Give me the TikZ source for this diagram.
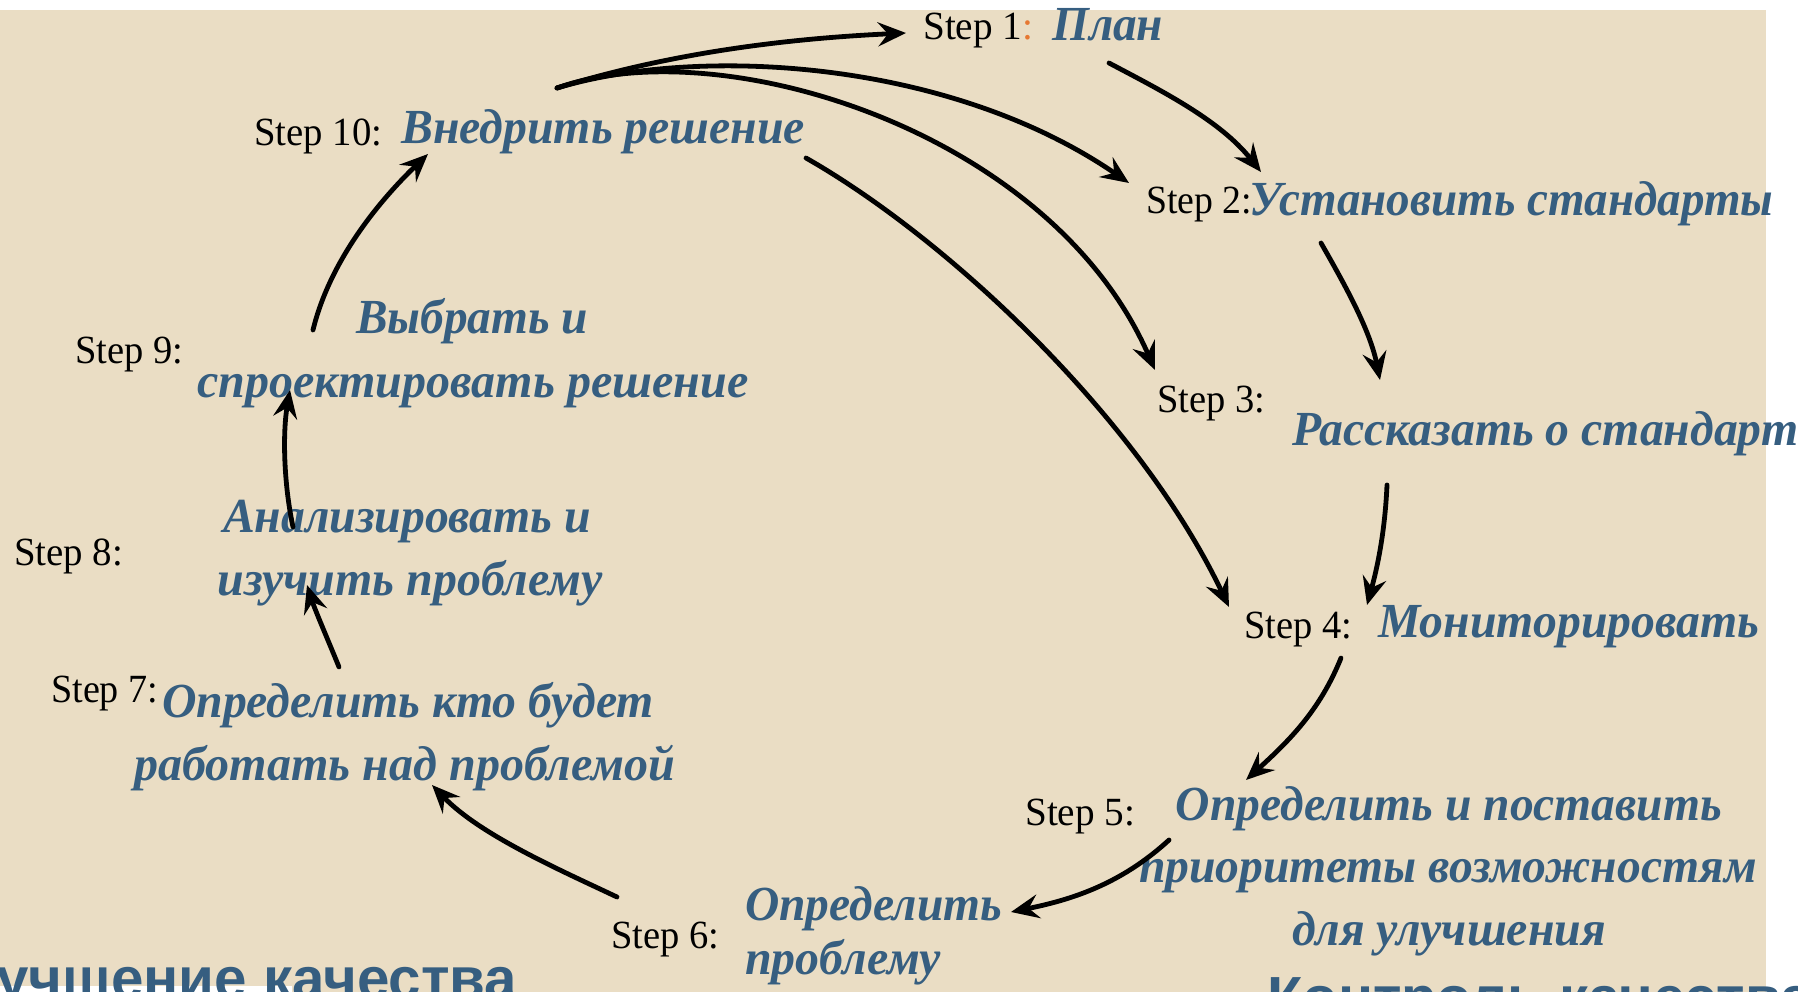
\documentclass[tikz,border=0pt]{standalone}
\usepackage{fontspec}
\setmainfont{Liberation Serif}
\newfontfamily\titlefont{Liberation Sans}
\usetikzlibrary{arrows.meta}
\definecolor{bgbeige}{RGB}{234,221,196}
\definecolor{txtblue}{RGB}{54,94,128}
\definecolor{colonorange}{RGB}{230,120,50}
\newcommand{\fitw}[2]{\resizebox{#1pt}{\height}{#2}}
\begin{document}
\begin{tikzpicture}[x=1pt,y=-1pt,
  steplbl/.style={inner sep=0pt, anchor=base west, font=\fontsize{40}{48}\selectfont, text=black},
  bluetxt/.style={inner sep=0pt, anchor=base west, font=\fontsize{49}{58}\selectfont\bfseries\itshape, text=txtblue},
  bluec/.style={bluetxt, anchor=base},
  titletxt/.style={inner sep=0pt, anchor=base west, font=\titlefont\fontsize{58}{64}\selectfont\bfseries, text=txtblue},
  flow/.style={line width=4.8pt, line cap=round, -{Stealth[length=28pt,width=24pt,inset=10pt]}}]
\useasboundingbox (0,0) rectangle (1798,992);
\fill[white] (0,0) rectangle (1798,992);
\fill[bgbeige] (0,10) rectangle (1766,992);
\fill[white] (0,986) rectangle (292,992);

% bottom cut titles
\node[titletxt] (t1) at (-4,998) {\fitw{521}{учшение качества}};
\node[titletxt] (t2) at (1267,1017) {Контроль качества};

% step labels
\node[steplbl] (s1) at (923,40) {\fitw{110}{Step 1\textcolor{colonorange}{:}}};
\node[steplbl] (s2) at (1146,214) {\fitw{106}{Step 2:}};
\node[steplbl] (s3) at (1157,412) {\fitw{108}{Step 3:}};
\node[steplbl] (s4) at (1244,638) {\fitw{108}{Step 4:}};
\node[steplbl] (s5) at (1025,825) {\fitw{110}{Step 5:}};
\node[steplbl] (s6) at (611,948) {\fitw{108}{Step 6:}};
\node[steplbl] (s7) at (51,702) {\fitw{107}{Step 7:}};
\node[steplbl] (s8) at (14,565) {\fitw{109}{Step 8:}};
\node[steplbl] (s9) at (75,363) {\fitw{108}{Step 9:}};
\node[steplbl] (s10) at (254,146) {\fitw{128}{Step 10:}};

% blue texts
\node[bluetxt] (p1) at (1052,41) {\fitw{111}{План}};
\node[bluetxt] (p2) at (1249,216) {\fitw{524}{Установить стандарты}};
\node[bluetxt] (p3) at (1292,445) {\fitw{506}{Рассказать о стандарт}};
\node[bluetxt] (p4) at (1378,637) {\fitw{381}{Мониторировать}};
\node[bluec] (p5a) at (1449,820) {\fitw{546}{Определить и поставить}};
\node[bluec] (p5b) at (1448,882) {\fitw{618}{приоритеты возможностям}};
\node[bluec] (p5c) at (1449,945) {\fitw{314}{для улучшения}};
\node[bluetxt] (p6a) at (745,920) {\fitw{257}{Определить}};
\node[bluetxt] (p6b) at (745,974) {\fitw{196}{проблему}};
\node[bluec] (p7a) at (408,717) {\fitw{492}{Определить кто будет}};
\node[bluec] (p7b) at (405,780) {\fitw{541}{работать над проблемой}};
\node[bluec] (p8a) at (407,532) {\fitw{368}{Анализировать и}};
\node[bluec] (p8b) at (410,595) {\fitw{385}{изучить проблему}};
\node[bluec] (p9a) at (472,333) {\fitw{232}{Выбрать и}};
\node[bluec] (p9b) at (473,397) {\fitw{551}{спроектировать решение}};
\node[bluetxt] (p10) at (401,144) {\fitw{404}{Внедрить решение}};

% connector end points
\coordinate (o10) at (557,88);
\coordinate (o10b) at (806,158);
\coordinate (i1) at (906,33);
\coordinate (o1) at (1109,63);
\coordinate (i2) at (1129,183);
\coordinate (i2b) at (1261,172);
\coordinate (o2) at (1321,243);
\coordinate (i3) at (1155,370);
\coordinate (i3b) at (1380,380);
\coordinate (o3) at (1387,485);
\coordinate (i4) at (1229,607);
\coordinate (i4b) at (1367,605);
\coordinate (o4) at (1341,658);
\coordinate (i5) at (1246,780);
\coordinate (o5) at (1169,840);
\coordinate (i6) at (1011,912);
\coordinate (o6) at (617,897);
\coordinate (i7) at (432,785);
\coordinate (o7) at (339,667);
\coordinate (i8) at (307,585);
\coordinate (o8) at (293,527);
\coordinate (i9) at (290,390);
\coordinate (o9) at (313,330);
\coordinate (i10) at (428,154);

% connectors
\draw[flow] (o10) .. controls (680,50) and (800,38) .. (i1);
\draw[flow] (o10) .. controls (700,45) and (950,60) .. (i2);
\draw[flow] (o10) .. controls (720,30) and (1050,130) .. (i3);
\draw[flow] (o10b) .. controls (950,240) and (1140,420) .. (i4);
\draw[flow] (o1) .. controls (1160,90) and (1220,120) .. (i2b);
\draw[flow] (o2) .. controls (1345,285) and (1370,330) .. (i3b);
\draw[flow] (o3) .. controls (1385,530) and (1378,565) .. (i4b);
\draw[flow] (o4) .. controls (1320,710) and (1290,740) .. (i5);
\draw[flow] (o5) .. controls (1120,885) and (1070,900) .. (i6);
\draw[flow] (o6) .. controls (560,870) and (480,835) .. (i7);
\draw[flow] (o7) .. controls (328,640) and (315,610) .. (i8);
\draw[flow] (o8) .. controls (283,480) and (283,430) .. (i9);
\draw[flow] (o9) .. controls (330,260) and (380,200) .. (i10);
\end{tikzpicture}
\end{document}
